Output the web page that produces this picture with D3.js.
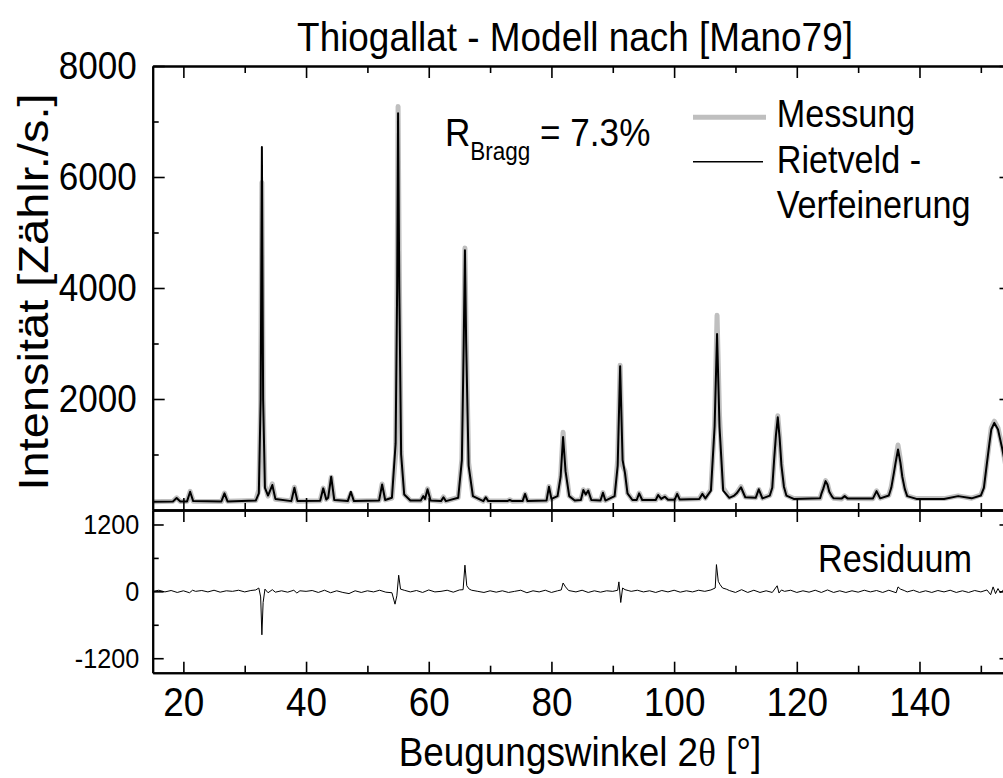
<!DOCTYPE html>
<html><head><meta charset="utf-8">
<script src="https://cdn.jsdelivr.net/npm/d3@7/dist/d3.min.js"></script>
<style>
body{margin:0;background:#fff}
svg{display:block}
text{font-family:"Liberation Sans",Arial,Helvetica,sans-serif;fill:#000}
</style>
</head><body>
<svg id="chart" width="1003" height="778"></svg>
<script>
// ---------- data ----------
const twoTheta = [
 15, 18.3, 18.9, 19.5, 20.6, 21.1, 21.6, 26.2, 26.7, 27.2,
 31.8, 32.3, 32.6, 32.8, 33.0, 33.3, 33.8, 34.5, 35.0, 37.6,
 38.1, 38.6, 42.3, 42.8, 43.3, 43.6, 44.1, 44.6, 46.8, 47.3,
 47.8, 51.9, 52.4, 52.9, 54.0, 54.6, 54.85, 55.0, 55.2, 55.5,
 56.0, 57.0, 58.7, 59.1, 59.4, 59.8, 60.3, 62.0, 62.4, 62.8,
 64.8, 65.4, 65.7, 65.9, 66.1, 66.5, 67.2, 68.9, 69.3, 69.7,
 72.8, 73.2, 73.6, 75.3, 75.7, 76.1, 79.2, 79.6, 80.0, 81.0,
 81.5, 81.9, 82.3, 82.9, 83.8, 84.8, 85.2, 85.6, 86.0, 86.5,
 88.0, 88.4, 88.8, 90.3, 90.8, 91.2, 91.6, 92.0, 92.4, 93.2,
 93.9, 94.3, 94.8, 97.0, 97.4, 97.9, 98.5, 99.0, 100.1, 100.5,
 100.9, 104.1, 104.6, 105.1, 106.0, 106.6, 107.0, 107.4, 108.0, 109.0,
 109.8, 110.2, 110.9, 111.6, 113.3, 113.8, 114.4, 115.6, 116.0, 116.3, 116.6, 116.9,
 117.2, 117.5, 117.9, 118.3, 119.5, 123.8, 124.0, 124.3, 124.7, 125.0, 125.3, 125.7, 126.0, 127.3, 127.8,
 128.3, 132.4, 133.0, 133.6, 135.0, 135.4, 135.8, 136.1, 136.5, 136.9, 137.2, 137.6, 138.0, 139.5,
 144.0, 146.3, 148.5, 150.0, 150.5, 151.0, 151.4, 151.7, 152.2, 152.8, 153.1, 153.5, 154.2, 155.0
];
const calculated = [
 150, 155, 215, 155, 155, 330, 160, 155, 300, 155,
 170, 300, 2000, 6540, 2000, 400, 260, 450, 200, 160,
 400, 160, 165, 390, 190, 220, 600, 180, 160, 330,
 160, 170, 460, 180, 220, 1200, 4000, 7150, 4000, 1000,
 280, 170, 170, 250, 200, 373, 170, 160, 230, 160,
 220, 900, 3000, 4680, 3000, 800, 250, 160, 230, 160,
 160, 180, 160, 160, 290, 160, 170, 420, 200, 250,
 600, 1315, 700, 250, 170, 180, 360, 280, 350, 180,
 170, 310, 170, 250, 800, 2590, 900, 660, 300, 180,
 180, 300, 180, 180, 270, 200, 240, 185, 185, 290,
 190, 200, 290, 210, 350, 1500, 3170, 1500, 350, 220,
 260, 300, 410, 230, 220, 373, 210, 260, 400, 900, 1350, 1670,
 1300, 800, 420, 260, 200, 210, 290, 380, 520, 460, 330, 250, 210, 205, 250,
 205, 205, 340, 210, 260, 400, 650, 850, 1090, 850, 600, 380, 250, 200,
 200, 250, 210, 260, 400, 850, 1200, 1450, 1570, 1450, 1300, 1100, 700, 450
];
const measured = [
 150, 158, 220, 152, 158, 335, 158, 152, 305, 158,
 172, 360, 1900, 5900, 2000, 440, 250, 470, 195, 162,
 410, 158, 168, 395, 192, 225, 590, 182, 158, 300,
 162, 172, 470, 182, 215, 1000, 4100, 7270, 4300, 1050,
 285, 172, 168, 255, 205, 380, 175, 158, 235, 162,
 225, 920, 3050, 4720, 3150, 850, 255, 158, 225, 162,
 162, 185, 158, 162, 285, 162, 168, 425, 195, 255,
 610, 1400, 760, 255, 172, 185, 365, 285, 355, 182,
 172, 315, 172, 255, 900, 2610, 800, 700, 305, 182,
 182, 305, 182, 178, 275, 205, 245, 188, 182, 295,
 192, 202, 295, 212, 370, 1560, 3510, 1700, 400, 225,
 265, 305, 420, 235, 222, 370, 215, 265, 410, 920, 1380, 1700,
 1330, 830, 430, 265, 205, 212, 295, 385, 530, 470, 335, 255, 212, 200, 255,
 208, 202, 345, 212, 265, 420, 680, 900, 1170, 900, 640, 400, 255, 205,
 205, 255, 212, 270, 420, 880, 1230, 1480, 1600, 1480, 1330, 1130, 720, 460
];
const residX = [
 15, 16, 17, 18, 19, 20, 21, 21.5, 22, 23,
 24, 25, 26, 27, 28, 29, 30, 31, 31.8, 32.3,
 32.6, 32.8, 33.0, 33.3, 33.8, 34.5, 35, 36, 37, 38,
 38.5, 39, 40, 41, 42, 43, 44, 45, 46, 47,
 48, 49, 50, 51, 52, 53, 54, 54.5, 54.8, 55.1,
 55.4, 56, 57, 58, 59, 60, 61, 62, 63, 64,
 65, 65.6, 65.9, 66.2, 66.6, 67, 68, 69, 70, 71,
 72, 73, 74, 75, 76, 77, 78, 79, 80, 81,
 81.6, 81.9, 82.3, 82.8, 84, 85, 86, 87, 88, 89,
 90, 90.8, 91.0, 91.3, 91.6, 92.0, 92.5, 93, 94, 95,
 96, 97, 98, 99, 100, 101, 102, 103, 104, 105,
 106, 106.7, 106.9, 107.2, 107.5, 107.9, 108.5, 109, 110, 111,
 112, 113, 114, 115, 116, 116.8, 117.1, 117.5, 118, 119,
 120, 121, 122, 123, 124, 125, 126, 127, 128, 129,
 130, 131, 132, 133, 134, 135, 136.2, 136.5, 136.9, 137.5,
 138, 139, 140, 141, 142, 143, 144, 145, 146, 147,
 148, 149, 150, 151, 151.6, 152, 152.4, 152.8, 153.2, 153.6,
 154
];
const residual = [
 0, 20, -10, 15, -20, 10, -25, 20, 0, 15,
 -10, 20, -15, 10, 0, 20, -10, 15, 25, 60,
 -100, -780, -200, 40, -25, 30, -15, 10, -15, 20,
 -30, 10, 0, 15, -20, 20, -25, 10, -20, -40,
 10, -20, 10, -10, 20, -15, -25, -230, -80, 290,
 40, 20, -10, 15, -20, 25, -10, 0, 20, -15,
 25, 30, 470, 100, 40, 20, 0, -20, 10, -15,
 10, -20, 0, 20, -25, 10, -10, 20, -20, 10,
 25, 150, 80, 15, -10, 20, -20, 10, -15, 10,
 0, 20, 170, -200, 60, 30, 15, 0, 20, -10,
 10, -20, 15, -10, 20, -15, 10, -10, 20, 0,
 25, 60, 480, 180, 120, 60, 40, 15, -20, 30,
 -20, 20, -20, 10, -20, 100, -30, 25, 0, 20,
 -20, 10, -15, 20, -20, 25, -20, 10, -20, 10,
 -15, 20, -10, 15, -20, 20, -25, 80, 40, 15,
 -10, 20, -20, 10, -20, 15, -10, 20, -20, 10,
 -20, 15, -10, 25, -60, 80, -40, 50, -30, 20,
 0
];
const xTickValues = [20, 40, 60, 80, 100, 120, 140];
const xMinorValues = [30, 50, 70, 90, 110, 130, 150];
const yUpperTicks = [2000, 4000, 6000, 8000];
const yUpperMinor = [1000, 3000, 5000, 7000];
const yLowerTicks = [-1200, 0, 1200];
const yLowerMinor = [-600, 600];

// ---------- layout ----------
const SX = 0.9; // horizontal condensation of the glyphs
const L = 152.7, R = 1011.5, T = 66, M = 510, B = 672.7;
const svg = d3.select("#chart");
const x = d3.scaleLinear().domain([15, 155]).range([L, R]);
const yU = d3.scaleLinear().domain([0, 8000]).range([M, T]);
const yL = d3.scaleLinear().domain([-1460, 1460]).range([B, M]);
const fmt = v => String(v);

const defs = svg.append("defs");
defs.append("clipPath").attr("id", "clipU").append("rect")
  .attr("x", L).attr("y", T).attr("width", R - L).attr("height", M - T);
defs.append("clipPath").attr("id", "clipL").append("rect")
  .attr("x", L).attr("y", M).attr("width", R - L).attr("height", B - M);

const pts = twoTheta.map((t, i) => ({t, c: calculated[i], m: measured[i]}));
const lineM = d3.line().x(d => x(d.t)).y(d => yU(d.m));
const lineC = d3.line().x(d => x(d.t)).y(d => yU(d.c));
const rpts = residX.map((t, i) => ({t, r: residual[i]}));
const lineR = d3.line().x(d => x(d.t)).y(d => yL(d.r));

const gU = svg.append("g").attr("clip-path", "url(#clipU)");
gU.append("path").datum(pts).attr("d", lineM)
  .attr("fill", "none").attr("stroke", "#bfbfbf").attr("stroke-width", 5)
  .attr("stroke-linejoin", "round");
gU.append("path").datum(pts).attr("d", lineC)
  .attr("fill", "none").attr("stroke", "#000").attr("stroke-width", 2)
  .attr("stroke-linejoin", "round");
const gL = svg.append("g").attr("clip-path", "url(#clipL)");
gL.append("path").datum(rpts).attr("d", lineR)
  .attr("fill", "none").attr("stroke", "#000").attr("stroke-width", 1);

// ---------- axes ----------
function styleAxis(g, noLabels) {
  g.select(".domain").attr("stroke-width", 2);
  g.selectAll(".tick line").attr("stroke-width", 1.6);
  if (noLabels) g.selectAll(".tick text").remove();
}
function add(axis, tx, ty, noLabels) {
  const g = svg.append("g").attr("transform", `translate(${tx},${ty})`).call(axis.tickFormat(fmt));
  styleAxis(g, noLabels);
  return g;
}
// top
add(d3.axisTop(x).tickValues(xTickValues).tickSize(-12).tickSizeOuter(0), 0, T, true);
add(d3.axisTop(x).tickValues(xMinorValues).tickSize(-7).tickSizeOuter(0), 0, T, true);
// middle (bottom of upper panel & top of lower panel)
add(d3.axisBottom(x).tickValues(xTickValues).tickSize(-12).tickSizeOuter(0), 0, M, true);
add(d3.axisBottom(x).tickValues(xMinorValues).tickSize(-7).tickSizeOuter(0), 0, M, true);
add(d3.axisTop(x).tickValues(xTickValues).tickSize(-12).tickSizeOuter(0), 0, M, true);
add(d3.axisTop(x).tickValues(xMinorValues).tickSize(-7).tickSizeOuter(0), 0, M, true);
// bottom with labels
const gxb = add(d3.axisBottom(x).tickValues(xTickValues).tickSize(-11).tickSizeOuter(0).tickPadding(14), 0, B, false);
gxb.selectAll(".tick text").attr("font-size", 41).attr("font-family", null)
  .attr("transform", `scale(${SX},1)`);
add(d3.axisBottom(x).tickValues(xMinorValues).tickSize(-7).tickSizeOuter(0), 0, B, true);
// left upper
const gyu = add(d3.axisLeft(yU).tickValues(yUpperTicks).tickSize(-12).tickSizeOuter(0), L, 0, false);
gyu.selectAll(".tick text").attr("font-size", 39).attr("font-family", null)
  .attr("x", -16 / SX).attr("transform", `scale(${SX},1)`);
add(d3.axisLeft(yU).tickValues(yUpperMinor).tickSize(-6).tickSizeOuter(0), L, 0, true);
// left lower
const gyl = add(d3.axisLeft(yL).tickValues(yLowerTicks).tickSize(-11).tickSizeOuter(0), L, 0, false);
gyl.selectAll(".tick text").attr("font-size", 28).attr("font-family", null)
  .attr("x", -13.5 / SX).attr("transform", `scale(${SX},1)`);
add(d3.axisLeft(yL).tickValues(yLowerMinor).tickSize(-6).tickSizeOuter(0), L, 0, true);
// right (mostly outside the window)
add(d3.axisRight(yU).tickValues(yUpperTicks).tickSize(-12).tickSizeOuter(0), R, 0, true);
add(d3.axisRight(yU).tickValues(yUpperMinor).tickSize(-6).tickSizeOuter(0), R, 0, true);
add(d3.axisRight(yL).tickValues(yLowerTicks).tickSize(-12).tickSizeOuter(0), R, 0, true);
add(d3.axisRight(yL).tickValues(yLowerMinor).tickSize(-6).tickSizeOuter(0), R, 0, true);

// ---------- texts ----------
function label(str, tx, ty, size, anchor) {
  const t = svg.append("text")
    .attr("transform", `translate(${tx},${ty}) scale(${SX},1)`)
    .attr("font-size", size).attr("text-anchor", anchor || "start");
  if (str !== null) t.text(str);
  return t;
}
label("Thiogallat - Modell nach [Mano79]", 575, 51, 41, "middle");
const xt = label(null, 580, 766, 41, "middle");
xt.append("tspan").text("Beugungswinkel 2");
xt.append("tspan").attr("font-family", "'Liberation Serif','DejaVu Serif',serif").text("θ");
xt.append("tspan").text(" [°]");
// rotated title: the horizontal condensation acts on the glyph height
svg.append("text")
  .attr("transform", `translate(48,292) rotate(-90) scale(1,${SX})`)
  .attr("font-size", 47).attr("text-anchor", "middle")
  .text("Intensität [Zählr./s.]");

const rb = label(null, 445, 146, 39, "start");
rb.append("tspan").text("R");
rb.append("tspan").attr("font-size", 25).attr("dy", 14).text("Bragg");
rb.append("tspan").attr("dy", -14).text(" = 7.3%");

// legend
svg.append("line").attr("x1", 693).attr("x2", 766).attr("y1", 117.3).attr("y2", 117.3)
  .attr("stroke", "#bfbfbf").attr("stroke-width", 5);
svg.append("line").attr("x1", 693).attr("x2", 763).attr("y1", 161.7).attr("y2", 161.7)
  .attr("stroke", "#000").attr("stroke-width", 1.5);
label("Messung", 776.7, 126.7, 38);
label("Rietveld -", 776.7, 173.3, 38);
label("Verfeinerung", 776.7, 218.3, 38);
label("Residuum", 818, 572, 38);
</script>
</body></html>
